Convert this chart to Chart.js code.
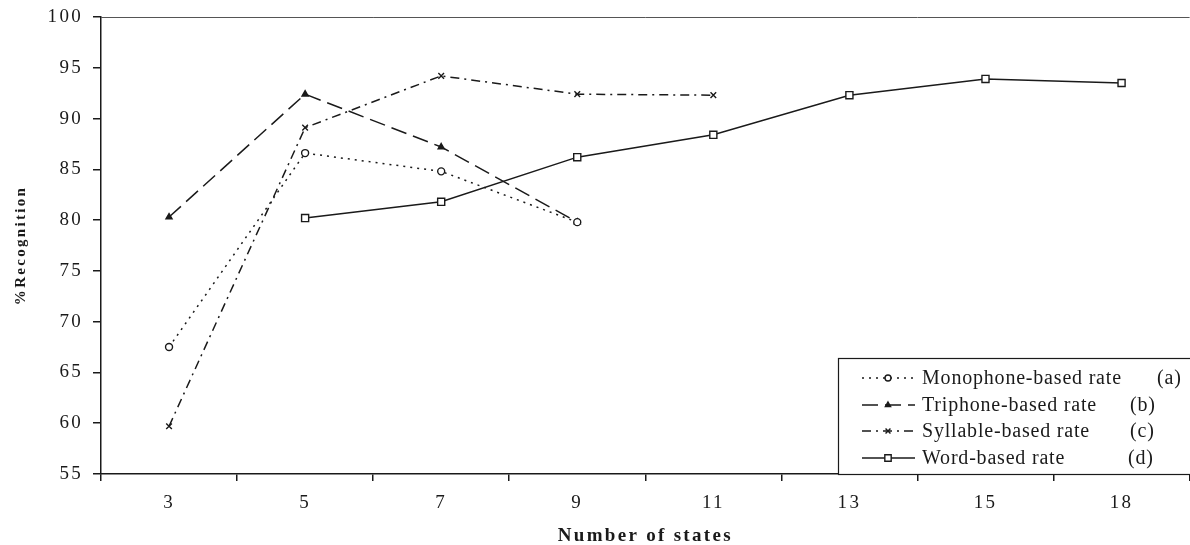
<!DOCTYPE html>
<html><head><meta charset="utf-8">
<script src="https://cdn.jsdelivr.net/npm/chart.js@4/dist/chart.umd.min.js"></script>
<style>html,body{margin:0;padding:0;overflow:hidden;background:#fff}#wrap{width:1196px;height:545px}</style>
</head><body><div id="wrap"><canvas id="c" width="1196" height="545"></canvas></div>
<script>
const categories = ['3','5','7','9','11','13','15','18'];
const monophone = [67.5, 86.6, 84.8, 79.8, null, null, null, null];
const triphone  = [80.3, 92.4, 87.2, 79.8, null, null, null, null];
const syllable  = [59.7, 89.1, 94.2, 92.4, 92.3, null, null, null];
const word      = [null, 80.2, 81.8, 86.2, 88.4, 92.3, 93.9, 93.5];
const seriesNames = ['Monophone-based rate', 'Triphone-based rate', 'Syllable-based rate', 'Word-based rate'];
const seriesTags = ['(a)', '(b)', '(c)', '(d)'];
const yTicks = [55,60,65,70,75,80,85,90,95,100];

const serif = '"Liberation Serif", "DejaVu Serif", serif';
const ink = '#1a1a1a';
const dashes = [[2,5],[16,7],[9,5,2,5],[]];
const styles = ['circle','triangle','crossRot','rect'];
const radii = [3.5,3.5,4,5];

function ds(label, data, i){
  return {label, data, borderColor: ink, borderWidth: 1.5, borderDash: dashes[i],
    pointStyle: styles[i], pointRadius: radii[i], pointBorderWidth: 1.4,
    pointBackgroundColor: i===1 ? ink : '#fff', pointBorderColor: ink,
    fill:false, tension:0, spanGaps:false};
}

const spacing = {
  id:'spacing',
  beforeLayout(chart){ chart.ctx.letterSpacing='2.3px'; },
  beforeDraw(chart){ chart.ctx.letterSpacing='2.3px'; }
};

const legendPlugin = {
  id:'customLegend',
  afterDraw(chart){
    const ctx = chart.ctx;
    ctx.save();
    ctx.letterSpacing='0.8px';
    const x0=838, y0=358, x1=1192, y1=474;
    ctx.fillStyle='#fff'; ctx.fillRect(x0,y0,x1-x0,y1-y0);
    ctx.strokeStyle=ink; ctx.lineWidth=1.2; ctx.strokeRect(x0+0.5,y0+0.5,x1-x0,y1-y0);
    const rows=[378,405,431,458];
    const tagX=[1157,1130,1130,1128];
    ctx.font='20px '+serif; ctx.textBaseline='middle';
    chart.data.datasets.forEach((d,i)=>{
      const y=rows[i];
      ctx.setLineDash(dashes[i]); ctx.lineWidth=1.4; ctx.strokeStyle=ink;
      ctx.beginPath(); ctx.moveTo(862,y); ctx.lineTo(915,y); ctx.stroke();
      ctx.setLineDash([]);
      ctx.fillStyle = i===1?ink:'#fff';
      Chart.helpers.drawPoint(ctx,{pointStyle:styles[i],radius:radii[i]-0.5,borderWidth:1.4,rotation:0},888,y);
      ctx.fillStyle=ink;
      ctx.textAlign='left';
      ctx.fillText(seriesNames[i], 922, y+1);
      ctx.fillText(seriesTags[i], tagX[i], y+1);
    });
    ctx.restore();
  }
};
const topLine = {
  id:'topLine',
  beforeDatasetsDraw(chart){
    const {ctx, chartArea:a}=chart;
    ctx.save(); ctx.strokeStyle='#555'; ctx.lineWidth=1;
    ctx.beginPath(); ctx.moveTo(a.left,a.top+0.5); ctx.lineTo(a.right,a.top+0.5); ctx.stroke();
    ctx.restore();
  }
};

new Chart(document.getElementById('c'), {
  type:'line',
  data:{labels:categories, datasets:[
    ds(seriesNames[0], monophone, 0),
    ds(seriesNames[1], triphone, 1),
    ds(seriesNames[2], syllable, 2),
    ds(seriesNames[3], word, 3)
  ]},
  options:{
    responsive:false, animation:false,
    layout:{padding:{top:17,left:0,right:0,bottom:0}},
    plugins:{legend:{display:false}, tooltip:{enabled:false}},
    scales:{
      x:{type:'category', offset:true,
        grid:{offset:true, drawOnChartArea:false, color:ink, tickLength:7, lineWidth:1.5},
        border:{color:ink, width:1.5},
        ticks:{color:ink, font:{family:serif, size:19}, padding:11, maxRotation:0},
        title:{display:true, text:'Number of states', color:ink, font:{family:serif, size:19, weight:'bold'}, padding:{top:18, bottom:-2}},
        afterFit(s){ s.height = 71; s.paddingLeft = 0; s.paddingRight = 0; }
      },
      y:{min:55, max:100, afterBuildTicks(s){ s.ticks = yTicks.map(v=>({value:v})); },
        grid:{drawOnChartArea:false, color:ink, tickLength:8, lineWidth:1.5},
        border:{color:ink, width:1.5},
        ticks:{color:ink, font:{family:serif, size:19}, padding:10},
        title:{display:true, text:'%Recognition', color:ink, font:{family:serif, size:15, weight:'bold'}, padding:{top:12, bottom:4}},
        afterFit(s){ s.width = 101; s.paddingTop = 0; s.paddingBottom = 0; }
      }
    }
  },
  plugins:[spacing, topLine, legendPlugin]
});
</script></body></html>
